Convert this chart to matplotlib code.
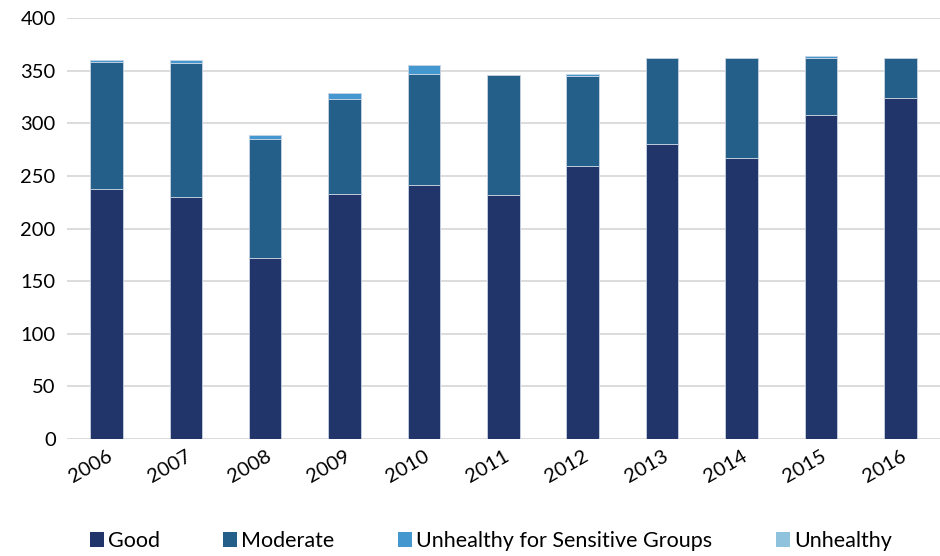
import matplotlib
matplotlib.use("Agg")
import matplotlib.pyplot as plt
from matplotlib.patches import Patch
import numpy as np

plt.rcParams['font.family'] = ['Lato', 'DejaVu Sans']

years = ["2006", "2007", "2008", "2009", "2010", "2011", "2012", "2013", "2014", "2015", "2016"]
good = [238, 230, 172, 233, 241, 232, 259, 280, 267, 308, 324]
moderate = [120, 127, 113, 90, 106, 114, 86, 82, 95, 54, 38]
usg = [2, 3, 4, 6, 8, 0, 2, 0, 0, 2, 0]
unhealthy = [0, 0, 0, 0, 0, 0, 0, 0, 0, 0, 0]

series = [
    ("Good", good, "#21356a"),
    ("Moderate", moderate, "#245f8a"),
    ("Unhealthy for Sensitive Groups", usg, "#4597cf"),
    ("Unhealthy", unhealthy, "#8fc2dd"),
]

fig = plt.figure(figsize=(9.4, 5.56), dpi=100)
ax = fig.add_axes([0.071, 0.2104, 0.929, 0.7572])

x = np.arange(len(years))
bottom = np.zeros(len(years))
for name, vals, color in series:
    vals = np.array(vals, dtype=float)
    shown = vals > 0
    if shown.any():
        ax.bar(x[shown], vals[shown], width=0.41, bottom=bottom[shown], color=color,
               edgecolor="#c8d4e3", linewidth=0.6, zorder=3)
    bottom += vals

ax.set_xlim(-0.5, len(years) - 0.5)
ax.set_ylim(0, 400)
ax.set_yticks(range(0, 401, 50))
ax.yaxis.grid(True, color="#d9d9d9", linewidth=1.3, zorder=0)
ax.set_axisbelow(True)
for s in ax.spines.values():
    s.set_visible(False)
ax.tick_params(axis="both", length=0, labelsize=14.5, colors="#000000", pad=8)
ax.tick_params(axis="x", pad=6)
ax.set_xticks(x)
ax.set_xticklabels(years, rotation=30, ha="right", rotation_mode="anchor")

handles = [Patch(facecolor=c, edgecolor="none", label=n) for n, _, c in series]
fig.legend(handles=handles, loc="center", bbox_to_anchor=(0.522, 0.027), ncol=4,
           frameon=False, fontsize=15.5, handlelength=0.66, handleheight=0.66,
           handletextpad=0.18, columnspacing=2.95)

fig.savefig("out.png", dpi=100)
